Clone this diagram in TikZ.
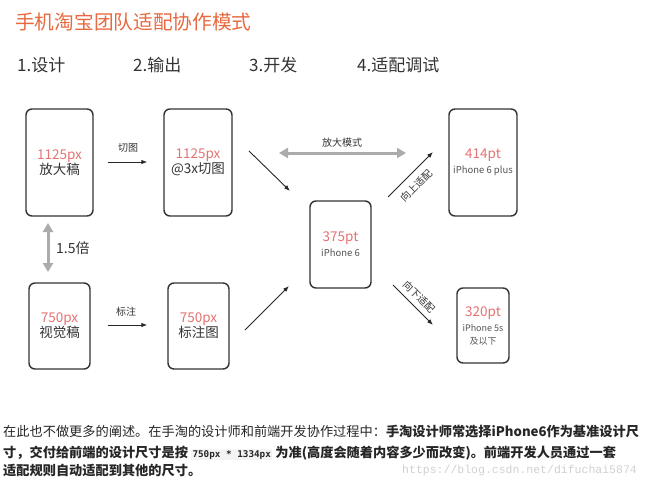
\documentclass[tikz,border=0pt]{standalone}
\usepackage{fontspec}
\setmainfont{Noto Sans CJK SC}
\newfontfamily\wmfont{Liberation Mono}
\newfontfamily\codefont{DejaVu Sans Mono}
\usetikzlibrary{arrows.meta,calc}
\definecolor{titleor}{HTML}{E8693F}
\definecolor{numred}{HTML}{E57373}
\definecolor{txtdark}{HTML}{333333}
\definecolor{txtmid}{HTML}{555555}
\definecolor{arrgray}{HTML}{ABABAB}
\definecolor{codebg}{HTML}{F4F4F4}
\begin{document}
\begin{tikzpicture}[x=1pt,y=-1pt,
  phone/.style={draw=txtdark, line width=1.4pt, rounded corners=6pt, inner sep=0pt,
    align=center, text=txtdark, font={\fontsize{13.5}{15}\selectfont}},
  plain/.style={inner sep=0pt, text=txtdark},
  small/.style={plain, font={\fontsize{10}{12}\selectfont}},
  conn/.style={-{Latex[length=6pt,width=4.5pt]}, line width=0.9pt, black!85},
  bigarr/.style={{Triangle[length=9pt,width=10pt]}-{Triangle[length=9pt,width=10pt]}, line width=3pt, arrgray},
  bodytxt/.style={inner sep=0pt, anchor=base west, text=black!85, font={\fontsize{13.2}{15}\selectfont}}
]
\useasboundingbox[fill=white] (0,0) rectangle (650,484);

% title and headers
\node[plain, anchor=west, text=titleor, font={\fontsize{19.7}{22}\selectfont}] (title) at (15,22) {手机淘宝团队适配协作模式};
\node[plain, anchor=west, font={\fontsize{17}{19}\selectfont}] (h1) at (17,65) {1.设计};
\node[plain, anchor=west, font={\fontsize{17}{19}\selectfont}] (h2) at (133,65) {2.输出};
\node[plain, anchor=west, font={\fontsize{17}{19}\selectfont}] (h3) at (249,65) {3.开发};
\node[plain, anchor=west, font={\fontsize{17}{19}\selectfont}] (h4) at (357,65) {4.适配调试};

% phone boxes
\node[phone, minimum width=67pt, minimum height=107pt] (A) at (59.5,162.5) {\textcolor{numred}{1125px}\\放大稿};
\node[phone, minimum width=68pt, minimum height=107pt] (B) at (198,162.5) {\textcolor{numred}{1125px}\\@3x切图};
\node[phone, minimum width=61pt, minimum height=86pt] (C) at (59.5,326) {\textcolor{numred}{750px}\\视觉稿};
\node[phone, minimum width=61pt, minimum height=86pt] (D) at (198.5,326) {\textcolor{numred}{750px}\\标注图};
\node[phone, minimum width=61pt, minimum height=87pt] (E) at (340.5,244.5) {\textcolor{numred}{375pt}\\{\fontsize{9.5}{11}\selectfont\color{txtmid}iPhone 6}};
\node[phone, minimum width=68pt, minimum height=107pt] (F) at (483,162.5) {\textcolor{numred}{414pt}\\{\fontsize{9.5}{11}\selectfont\color{txtmid}iPhone 6 plus}};
\node[phone, minimum width=52pt, minimum height=75pt] (G) at (483,325.5) {\textcolor{numred}{320pt}\\{\fontsize{9}{11}\selectfont\color{txtmid}iPhone 5s}\\[-2pt]{\fontsize{9}{11}\selectfont\color{txtmid}及以下}};

% horizontal arrows
\draw[conn, shorten <=14pt, shorten >=16pt] (A.east |- 0,162) coordinate (a1) -- (B.west |- 0,162) coordinate (b1);
\node[small] (lqt) at (128,148) {切图};
\draw[conn, shorten <=17pt, shorten >=20pt] (C.east |- 0,325) coordinate (c1) -- (D.west |- 0,325) coordinate (d1);
\node[small] (lbz) at (126,312) {标注};

% 1.5x double arrow
\coordinate (vs) at (48,223);
\coordinate (ve) at (48,272);
\draw[bigarr] (vs) -- (ve);
\node[plain, anchor=west, font={\fontsize{14}{16}\selectfont}] (lbei) at (56,248) {1.5倍};

% diagonal arrows to E
\coordinate (be1) at (249,151);
\coordinate (be2) at (290,191);
\draw[conn] (be1) -- (be2);
\coordinate (de1) at (245,330);
\coordinate (de2) at (289,286);
\draw[conn] (de1) -- (de2);

% enlarge mode double arrow
\coordinate (gs) at (279,153);
\coordinate (ge) at (406,153);
\draw[bigarr] (gs) -- (ge);
\node[small] (lfd) at (342,143) {放大模式};

% adapt arrows
\coordinate (ef1) at (388,197);
\coordinate (ef2) at (433,152);
\draw[conn] (ef1) -- (ef2);
\node[small, rotate=45] (lup) at (416,186) {向上适配};
\coordinate (eg1) at (393,285);
\coordinate (eg2) at (433,325);
\draw[conn] (eg1) -- (eg2);
\node[small, rotate=-45] (ldown) at (419,297) {向下适配};

% bottom text
\node[bodytxt] (t1) at (3,436.5) {在此也不做更多的阐述。在手淘的设计师和前端开发协作过程中：\textbf{手淘设计师常选择iPhone6作为基准设计尺}};
\node[bodytxt] (t2) at (3,457) {\textbf{寸，交付给前端的设计尺寸是按 }{\setlength{\fboxsep}{1.5pt}\colorbox{codebg}{\codefont\bfseries\fontsize{9.3}{10}\selectfont 750px * 1334px}}\textbf{ 为准(高度会随着内容多少而改变)。前端开发人员通过一套}};
\node[bodytxt] (t3) at (3,475.5) {\textbf{适配规则自动适配到其他的尺寸。}};
\node[inner sep=0pt, anchor=west, text=black!18, font={\wmfont\fontsize{11.5}{12}\selectfont}] (wm) at (402,471) {https://blog.csdn.net/difuchai5874};
\end{tikzpicture}
\end{document}
